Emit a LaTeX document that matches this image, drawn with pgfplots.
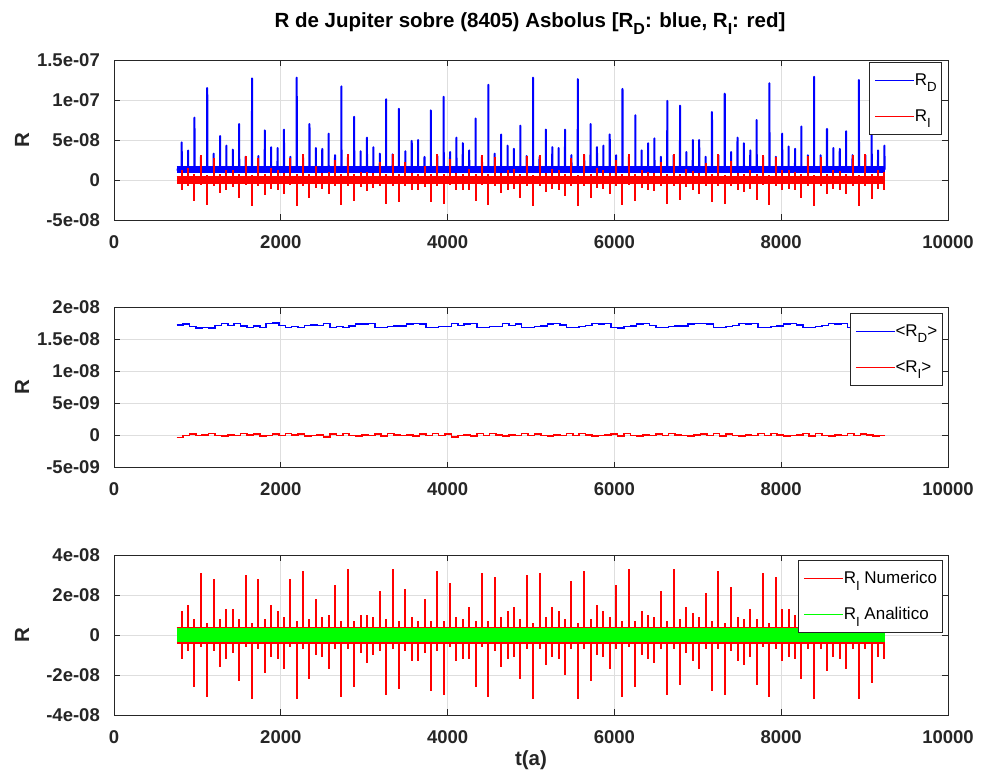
\documentclass[border=0pt]{standalone}
\usepackage{graphicx}
\usepackage{pgfplots}
\pgfplotsset{compat=1.18}
\usepackage{pgfplotstable}
\usepackage{fontspec}
\setmainfont{Liberation Sans}
\definecolor{mblue}{RGB}{0,0,255}
\definecolor{mred}{RGB}{255,0,0}
\definecolor{mgreen}{RGB}{0,255,0}
\definecolor{axcol}{RGB}{38,38,38}
\definecolor{gridcol}{RGB}{222,222,222}
\newcommand{\sub}[1]{\raisebox{-0.38em}{\scalebox{0.78}{#1}}}

% per-orbit data, values in units of 1e-9
% t: epoch of the spike, b: start of the orbit, p/m: max/min of R_I,
% sd/si: orbit mean of R_D and R_I
\pgfplotstableread{
t b p m sd si
812 752 12 -12 17.3 -0.3
889 829 15 -8 17.4 0.0
965 905 8 -26 17.0 0.2
1042 982 31 -6 16.8 0.0
1118 1058 6 -31 16.9 0.1
1195 1135 28 -8 16.8 0.3
1272 1212 8 -16 17.2 0.0
1348 1288 13 -12 17.5 -0.1
1425 1365 13 -9 17.2 0.1
1501 1441 8 -23 17.5 0.0
1578 1518 30 -6 17.1 0.3
1655 1595 6 -32 16.9 0.1
1731 1671 28 -7 17.1 0.2
1808 1748 8 -19 16.9 -0.1
1884 1824 15 -11 17.5 0.0
1961 1901 12 -12 17.6 0.2
2038 1978 9 -17 17.2 0.0
2114 2054 28 -6 16.9 0.3
2191 2131 7 -32 17.0 0.1
2267 2207 32 -7 16.9 0.2
2344 2284 8 -22 17.2 -0.1
2421 2361 18 -10 17.3 0.0
2497 2437 9 -11 17.2 0.1
2574 2514 10 -17 17.5 -0.2
2650 2590 25 -7 16.9 0.2
2727 2667 7 -31 17.0 0.0
2804 2744 33 -7 16.9 0.3
2880 2820 7 -26 17.1 0.0
2957 2897 10 -9 17.4 -0.1
3033 2973 10 -14 17.4 0.1
3110 3050 9 -10 17.5 0.0
3187 3127 22 -8 16.9 0.2
3263 3203 8 -30 16.9 -0.1
3340 3280 33 -7 17.0 0.3
3416 3356 7 -27 17.1 0.1
3493 3433 23 -8 17.1 0.0
3570 3510 9 -13 17.4 0.1
3646 3586 7 -13 17.5 -0.1
3723 3663 18 -9 17.4 0.2
3799 3739 7 -28 16.9 0.0
3876 3816 32 -8 16.9 0.3
3953 3893 7 -30 17.0 0.0
4029 3969 26 -6 17.0 0.2
4106 4046 9 -13 17.5 -0.2
4182 4122 8 -12 17.2 0.0
4259 4199 14 -12 17.4 0.1
4336 4276 7 -26 17.5 -0.1
4412 4352 31 -6 16.9 0.3
4489 4429 7 -31 16.9 0.0
4565 4505 29 -8 17.0 0.3
4642 4582 9 -16 17.0 0.1
4719 4659 12 -12 17.5 -0.1
4795 4735 14 -11 17.2 0.1
4872 4812 8 -22 17.4 0.0
4948 4888 30 -7 16.9 0.3
5025 4965 6 -32 16.9 0.0
5102 5042 31 -7 17.0 0.2
5178 5118 9 -15 17.1 0.0
5255 5195 14 -11 17.4 -0.1
5331 5271 12 -12 17.5 0.1
5408 5348 8 -20 17.3 0.0
5485 5425 27 -7 16.9 0.3
5561 5501 6 -32 16.9 0.0
5638 5578 32 -7 17.0 0.3
5714 5654 8 -23 17.2 0.1
5791 5731 15 -10 17.5 -0.1
5868 5808 12 -11 17.4 0.0
5944 5884 9 -17 17.5 0.1
6021 5961 25 -7 16.9 0.2
6097 6037 7 -31 16.8 -0.1
6174 6114 33 -6 17.0 0.3
6251 6191 7 -26 17.1 0.0
6327 6267 12 -10 17.4 -0.1
6404 6344 10 -12 17.5 0.1
6480 6420 9 -14 17.2 0.0
6557 6497 22 -7 16.9 0.2
6634 6574 7 -30 16.9 0.0
6710 6650 33 -7 17.0 0.3
6787 6727 8 -25 17.1 0.1
6863 6803 14 -9 17.1 0.0
6940 6880 11 -13 17.4 -0.1
7017 6957 9 -17 17.5 0.1
7093 7033 21 -7 17.5 0.2
7170 7110 7 -28 17.4 0.0
7246 7186 32 -7 16.9 0.3
7323 7263 6 -30 16.9 -0.1
7400 7340 24 -8 17.0 0.2
7476 7416 9 -13 17.2 0.0
7553 7493 8 -15 17.5 -0.1
7629 7569 13 -11 17.4 0.1
7706 7646 8 -25 17.5 0.0
7783 7723 31 -6 16.9 0.3
7859 7799 6 -31 16.9 0.0
7936 7876 29 -7 17.0 0.3
8012 7952 13 -13 17.1 0.1
8089 8029 13 -11 17.4 -0.1
8166 8106 10 -12 17.5 0.0
8242 8182 8 -22 17.3 0.1
8319 8259 30 -7 16.9 0.3
8395 8335 6 -32 16.9 -0.1
8472 8412 29 -7 17.0 0.3
8549 8489 8 -18 17.2 0.0
8625 8565 12 -11 17.5 -0.1
8702 8642 11 -12 17.4 0.1
8778 8718 8 -17 17.5 0.0
8855 8795 31 -7 16.9 0.3
8932 8872 6 -32 16.9 0.0
9008 8948 33 -7 17.0 0.2
9085 9025 8 -24 17.1 0.1
9161 9101 13 -11 17.4 -0.1
9238 9178 10 -12 17.5 0.0
nan 9244 nan nan 17.5 0.0
}\orbits

\pgfplotsset{
  panel/.style={
    scale only axis, width=834pt, height=160pt, anchor=north west,
    xmin=0, xmax=10000,
    xtick={0,2000,4000,6000,8000,10000},
    xticklabels={0,2000,4000,6000,8000,10000},
    scaled ticks=false,
    tick pos=both, tick align=inside, major tick length=6pt,
    xticklabel pos=lower, yticklabel pos=left,
    grid=major, major grid style={gridcol, line width=0.9pt},
    axis line style={axcol, line width=1pt},
    tick style={axcol, line width=1pt},
    tick label style={font=\fontsize{18.5}{20}\selectfont\bfseries, text=axcol},
    xticklabel style={anchor=center, yshift=-21.7pt},
    yticklabel style={anchor=east, inner sep=0pt, xshift=-14pt},
    ylabel={R},
    ylabel style={font=\fontsize{20.5}{22}\selectfont\bfseries, text=axcol, at={(axis description cs:-0.1103,0.5)}, anchor=center},
    legend cell align=left,
    legend image code/.code={\draw[##1, line width=1.4pt] (0pt,0pt) -- (39pt,0pt);},
    legend style={font=\fontsize{17}{19}\selectfont, draw=axcol, line width=1pt, fill=white,
      at={(1,1)}, anchor=north east, inner xsep=5pt, inner ysep=0pt,
      nodes={inner xsep=0pt, inner ysep=0pt, minimum height=36pt},
      /tikz/every even column/.append style={column sep=5pt}},
  }
}

\begin{document}
\begin{tikzpicture}
\useasboundingbox (0pt,0pt) rectangle (981pt,-774pt);

\node[anchor=base, font=\fontsize{20.5}{24}\selectfont\bfseries] at (530pt,-27pt)
  {R de Jupiter sobre (8405) Asbolus [R\sub{D}: blue, R\sub{I}: red]};

% ---------------- panel 1 ----------------
\begin{axis}[panel, at={(114pt,-60pt)},
  ymin=-50, ymax=150, ytick={-50,0,50,100,150},
  yticklabels={-5e-08,0,5e-08,1e-07,1.5e-07},
  legend style={xshift=-5.7pt, yshift=-1.7pt}]
\addplot[mblue, line width=6.8pt, forget plot] coordinates {(752,13.25) (9244,13.25)};
\addplot[mblue, line width=2pt, line join=round, forget plot] coordinates {
(752,13)
(811,13)(812,47)(813,13) (888,13)(889,37)(890,13) (964,13)(965,78)(966,13)
(1041,13)(1042,29)(1043,13) (1117,13)(1118,115)(1119,13) (1194,13)(1195,33)(1196,13)
(1271,13)(1272,55)(1273,13) (1347,13)(1348,43)(1349,13) (1424,13)(1425,38)(1426,13)
(1500,13)(1501,70)(1502,13) (1577,13)(1578,29)(1579,13) (1654,13)(1655,127)(1656,13)
(1730,13)(1731,30)(1732,13) (1807,13)(1808,62)(1809,13) (1883,13)(1884,41)(1885,13)
(1960,13)(1961,40)(1962,13) (2037,13)(2038,63)(2039,13) (2113,13)(2114,29)(2115,13)
(2190,13)(2191,128)(2192,13) (2266,13)(2267,28)(2268,13) (2343,13)(2344,70)(2345,13)
(2420,13)(2421,40)(2422,13) (2496,13)(2497,39)(2498,13) (2573,13)(2574,58)(2575,13)
(2649,13)(2650,31)(2651,13) (2726,13)(2727,117)(2728,13) (2803,13)(2804,28)(2805,13)
(2879,13)(2880,79)(2881,13) (2956,13)(2957,36)(2958,13) (3032,13)(3033,53)(3034,13)
(3109,13)(3110,41)(3111,13) (3186,13)(3187,33)(3188,13) (3262,13)(3263,101)(3264,13)
(3339,13)(3340,32)(3341,13) (3415,13)(3416,89)(3417,13) (3492,13)(3493,36)(3494,13)
(3569,13)(3570,49)(3571,13) (3645,13)(3646,50)(3647,13) (3722,13)(3723,29)(3724,13)
(3798,13)(3799,87)(3800,13) (3875,13)(3876,30)(3877,13) (3952,13)(3953,104)(3954,13)
(4028,13)(4029,35)(4030,13) (4105,13)(4106,53)(4107,13) (4181,13)(4182,46)(4183,13)
(4258,13)(4259,37)(4260,13) (4335,13)(4336,77)(4337,13) (4411,13)(4412,29)(4413,13)
(4488,13)(4489,119)(4490,13) (4564,13)(4565,33)(4566,13) (4641,13)(4642,57)(4643,13)
(4718,13)(4719,43)(4720,13) (4794,13)(4795,39)(4796,13) (4871,13)(4872,68)(4873,13)
(4947,13)(4948,30)(4949,13) (5024,13)(5025,128)(5026,13) (5101,13)(5102,29)(5103,13)
(5177,13)(5178,63)(5179,13) (5254,13)(5255,41)(5256,13) (5330,13)(5331,40)(5332,13)
(5407,13)(5408,63)(5409,13) (5484,13)(5485,31)(5486,13) (5560,13)(5561,126)(5562,13)
(5637,13)(5638,31)(5639,13) (5713,13)(5714,70)(5715,13) (5790,13)(5791,41)(5792,13)
(5867,13)(5868,43)(5869,13) (5943,13)(5944,57)(5945,13) (6020,13)(6021,31)(6022,13)
(6096,13)(6097,114)(6098,13) (6173,13)(6174,29)(6175,13) (6250,13)(6251,81)(6252,13)
(6326,13)(6327,37)(6328,13) (6403,13)(6404,46)(6405,13) (6479,13)(6480,52)(6481,13)
(6556,13)(6557,29)(6558,13) (6633,13)(6634,99)(6635,13) (6709,13)(6710,31)(6711,13)
(6786,13)(6787,93)(6788,13) (6862,13)(6863,35)(6864,13) (6939,13)(6940,50)(6941,13)
(7016,13)(7017,50)(7018,13) (7092,13)(7093,29)(7094,13) (7169,13)(7170,85)(7171,13)
(7245,13)(7246,31)(7247,13) (7322,13)(7323,108)(7324,13) (7399,13)(7400,35)(7401,13)
(7475,13)(7476,53)(7477,13) (7552,13)(7553,46)(7554,13) (7628,13)(7629,37)(7630,13)
(7705,13)(7706,75)(7707,13) (7782,13)(7783,29)(7784,13) (7858,13)(7859,121)(7860,13)
(7935,13)(7936,29)(7937,13) (8011,13)(8012,58)(8013,13) (8088,13)(8089,42)(8090,13)
(8165,13)(8166,39)(8167,13) (8241,13)(8242,67)(8243,13) (8318,13)(8319,31)(8320,13)
(8394,13)(8395,129)(8396,13) (8471,13)(8472,31)(8473,13) (8548,13)(8549,64)(8550,13)
(8624,13)(8625,40)(8626,13) (8701,13)(8702,39)(8703,13) (8777,13)(8778,61)(8779,13)
(8854,13)(8855,31)(8856,13) (8931,13)(8932,125)(8933,13) (9007,13)(9008,31)(9009,13)
(9084,13)(9085,58)(9086,13) (9160,13)(9161,37)(9162,13) (9237,13)(9238,43)(9239,13)
(9244,13)};
\addplot[mred, line width=8pt, forget plot] coordinates {(752,0) (9244,0)};
\addplot[mred, ycomb, line width=2pt, forget plot] table[x=t, y=p] {\orbits};
\addplot[mred, ycomb, line width=2pt, forget plot] table[x=t, y=m] {\orbits};
\addlegendimage{mblue}\addlegendentry{R\sub{D}}
\addlegendimage{mred}\addlegendentry{R\sub{I}}
\end{axis}

% ---------------- panel 2 ----------------
\begin{axis}[panel, at={(114pt,-307.5pt)},
  ymin=-5, ymax=20, ytick={-5,0,5,10,15,20},
  yticklabels={-5e-09,0,5e-09,1e-08,1.5e-08,2e-08},
  legend style={xshift=-5.3pt, yshift=-5.2pt}]
\addplot[mblue, const plot, line width=1.5pt, forget plot] table[x=b, y=sd] {\orbits};
\addplot[mred, const plot, line width=1.5pt, forget plot] table[x=b, y=si] {\orbits};
\addlegendimage{mblue}\addlegendentry{<R\sub{D}>}
\addlegendimage{mred}\addlegendentry{<R\sub{I}>}
\end{axis}

% ---------------- panel 3 ----------------
\begin{axis}[panel, at={(114pt,-555pt)},
  ymin=-40, ymax=40, ytick={-40,-20,0,20,40},
  yticklabels={-4e-08,-2e-08,0,2e-08,4e-08},
  xlabel={t(a)},
  xlabel style={font=\fontsize{20.5}{22}\selectfont\bfseries, text=axcol, at={(axis description cs:0.5,0)}, anchor=center, yshift=-45pt},
  legend style={xshift=-5.3pt, yshift=-5pt}]
\addplot[mred, ycomb, line width=2pt, forget plot] table[x=t, y=p] {\orbits};
\addplot[mred, ycomb, line width=2pt, forget plot] table[x=t, y=m] {\orbits};
\addplot[mred, line width=17pt, forget plot] coordinates {(752,0) (9244,0)};
\addplot[mgreen, line width=13.5pt, forget plot] coordinates {(752,0) (9244,0)};
\addlegendimage{mred}\addlegendentry{R\sub{I} Numerico}
\addlegendimage{mgreen}\addlegendentry{R\sub{I} Analitico}
\end{axis}
\end{tikzpicture}
\end{document}
